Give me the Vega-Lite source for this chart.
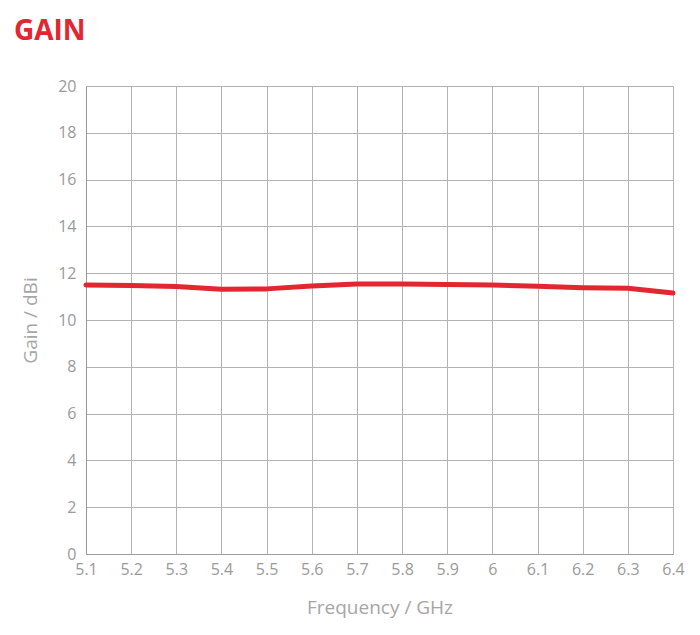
{
  "$schema": "https://vega.github.io/schema/vega-lite/v6.json",
  "width": 587,
  "height": 468,
  "autosize": {"type": "none"},
  "padding": {"left": 86, "top": 86, "right": 27, "bottom": 81},
  "background": "white",
  "title": {
    "text": "GAIN",
    "anchor": "start",
    "frame": "group",
    "dx": -72,
    "dy": 38,
    "offset": 48,
    "baseline": "alphabetic",
    "font": "Open Sans",
    "fontSize": 28,
    "fontWeight": "bold",
    "color": "#e3262f"
  },
  "config": {
    "view": {"stroke": null},
    "axis": {
      "gridColor": "#b3b3b3",
      "gridWidth": 1,
      "domainColor": "#999999",
      "domainWidth": 1,
      "ticks": false,
      "labelFont": "Open Sans",
      "labelFontSize": 16,
      "labelColor": "#9a9a9a",
      "titleFont": "Open Sans",
      "titleFontSize": 19,
      "titleFontWeight": "normal",
      "titleColor": "#a6a6a6"
    }
  },
  "data": {
    "values": [
      {"f": 5.1, "g": 11.5},
      {"f": 5.2, "g": 11.47},
      {"f": 5.3, "g": 11.43},
      {"f": 5.4, "g": 11.31},
      {"f": 5.5, "g": 11.33},
      {"f": 5.6, "g": 11.45},
      {"f": 5.7, "g": 11.54},
      {"f": 5.8, "g": 11.54},
      {"f": 5.9, "g": 11.52},
      {"f": 6.0, "g": 11.5},
      {"f": 6.1, "g": 11.44},
      {"f": 6.2, "g": 11.38},
      {"f": 6.3, "g": 11.36},
      {"f": 6.4, "g": 11.15}
    ]
  },
  "mark": {"type": "line", "color": "#e3262f", "strokeWidth": 5, "strokeCap": "round", "strokeJoin": "round"},
  "encoding": {
    "x": {
      "field": "f",
      "type": "quantitative",
      "scale": {"domain": [5.1, 6.4], "nice": false, "zero": false},
      "axis": {
        "values": [5.1, 5.2, 5.3, 5.4, 5.5, 5.6, 5.7, 5.8, 5.9, 6.0, 6.1, 6.2, 6.3, 6.4],
        "labelExpr": "datum.value == 6 ? '6' : format(datum.value, '.1f')",
        "labelPadding": 7,
        "labelFlush": false,
        "title": "Frequency / GHz",
        "titlePadding": 21
      }
    },
    "y": {
      "field": "g",
      "type": "quantitative",
      "scale": {"domain": [0, 20], "nice": false},
      "axis": {
        "values": [0, 2, 4, 6, 8, 10, 12, 14, 16, 18, 20],
        "labelPadding": 10,
        "title": "Gain / dBi",
        "titlePadding": 17
      }
    }
  }
}
